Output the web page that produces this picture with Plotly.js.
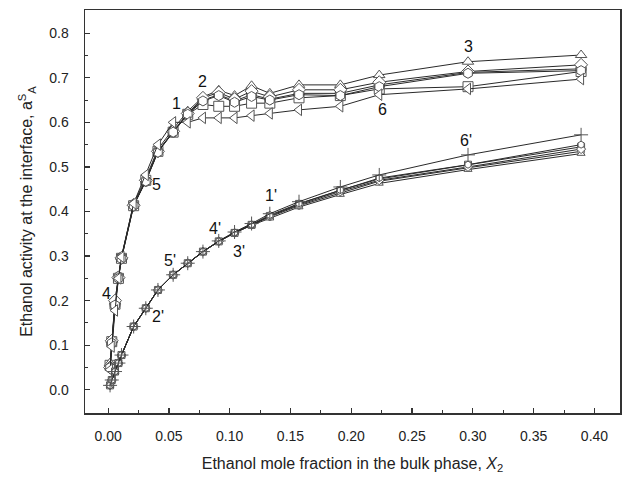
<!DOCTYPE html>
<html>
<head>
<meta charset="utf-8">
<script src="https://cdn.plot.ly/plotly-3.0.1.min.js"></script>
<style>html,body{margin:0;padding:0;background:#fff;}#chart{width:625px;height:484px;}</style>
</head>
<body>
<div id="chart"></div>
<script>
// Ethanol mole fraction in the bulk phase
const xBulk = [0.0016, 0.003, 0.0057, 0.0085, 0.011, 0.021, 0.031, 0.041, 0.0535, 0.0655,
               0.078, 0.091, 0.104, 0.118, 0.133, 0.157, 0.191, 0.223, 0.296, 0.389];

// Upper family: curves 1-6
const a1 = [0.055, 0.108, 0.192, 0.250, 0.295, 0.413, 0.470, 0.535, 0.578, 0.618, 0.640, 0.636, 0.636, 0.643, 0.643, 0.655, 0.660, 0.675, 0.680, 0.714];
const a2 = [0.050, 0.105, 0.190, 0.253, 0.297, 0.415, 0.468, 0.535, 0.578, 0.620, 0.650, 0.662, 0.648, 0.662, 0.652, 0.665, 0.665, 0.684, 0.712, 0.720];
const a3 = [0.060, 0.112, 0.198, 0.255, 0.298, 0.418, 0.475, 0.540, 0.585, 0.625, 0.657, 0.672, 0.660, 0.682, 0.665, 0.684, 0.684, 0.706, 0.736, 0.751];
const a4 = [0.050, 0.110, 0.200, 0.252, 0.296, 0.414, 0.470, 0.535, 0.580, 0.620, 0.655, 0.667, 0.652, 0.670, 0.657, 0.673, 0.673, 0.690, 0.714, 0.729];
const a5 = [0.050, 0.105, 0.190, 0.250, 0.294, 0.413, 0.468, 0.533, 0.578, 0.618, 0.648, 0.660, 0.645, 0.658, 0.650, 0.662, 0.660, 0.680, 0.710, 0.716];
const a6 = [0.045, 0.097, 0.178, 0.250, 0.298, 0.418, 0.482, 0.550, 0.600, 0.600, 0.610, 0.610, 0.610, 0.615, 0.620, 0.628, 0.636, 0.662, 0.675, 0.697];

// Lower family: curves 1'-6'
const b1 = [0.010, 0.022, 0.041, 0.060, 0.078, 0.142, 0.183, 0.224, 0.258, 0.284, 0.310, 0.333, 0.352, 0.370, 0.390, 0.417, 0.448, 0.473, 0.505, 0.545];
const b2 = [0.010, 0.022, 0.041, 0.060, 0.078, 0.142, 0.183, 0.224, 0.258, 0.284, 0.310, 0.333, 0.352, 0.370, 0.388, 0.413, 0.442, 0.468, 0.498, 0.535];
const b3 = [0.010, 0.022, 0.041, 0.060, 0.078, 0.142, 0.183, 0.224, 0.258, 0.284, 0.310, 0.333, 0.352, 0.369, 0.385, 0.410, 0.438, 0.463, 0.494, 0.530];
const b4 = [0.010, 0.022, 0.041, 0.060, 0.078, 0.142, 0.183, 0.224, 0.258, 0.284, 0.310, 0.333, 0.352, 0.370, 0.390, 0.415, 0.445, 0.470, 0.500, 0.540];
const b5 = [0.010, 0.022, 0.041, 0.060, 0.078, 0.142, 0.183, 0.224, 0.258, 0.284, 0.310, 0.333, 0.353, 0.371, 0.392, 0.418, 0.448, 0.475, 0.505, 0.550];
const b6 = [0.010, 0.022, 0.041, 0.060, 0.078, 0.142, 0.183, 0.224, 0.258, 0.284, 0.310, 0.334, 0.354, 0.373, 0.395, 0.422, 0.455, 0.482, 0.527, 0.572];

const upperSeries = [a1, a2, a3, a4, a5, a6];
const lowerSeries = [b1, b2, b3, b4, b5, b6];
const upperSymbols = ['square', 'circle', 'triangle-up', 'diamond', 'hexagon', 'triangle-left'];
const lowerSymbols = ['square', 'circle', 'triangle-up', 'diamond', 'hexagon', 'cross-thin'];

// Curve labels
const labelText = ['1', '2', '3', '4', '5', '6', "1'", "2'", "3'", "4'", "5'", "6'"];
const labelX = [0.056, 0.078, 0.296, -0.001, 0.040, 0.226, 0.134, 0.041, 0.108, 0.088, 0.051, 0.294];
const labelY = [0.643, 0.691, 0.770, 0.217, 0.460, 0.628, 0.437, 0.164, 0.310, 0.362, 0.291, 0.560];

const traces = [];
upperSeries.forEach((ys, i) => {
  traces.push({
    x: xBulk, y: ys, type: 'scatter', mode: 'lines+markers',
    line: {color: '#2a2a2a', width: 1},
    marker: {symbol: upperSymbols[i], size: 10, color: '#ffffff', line: {color: '#555555', width: 1}},
    showlegend: false, hoverinfo: 'skip'
  });
});
lowerSeries.forEach((ys, i) => {
  const cross = lowerSymbols[i] === 'cross-thin';
  traces.push({
    x: xBulk, y: ys, type: 'scatter', mode: 'lines+markers',
    line: {color: '#2a2a2a', width: 1},
    marker: {symbol: lowerSymbols[i], size: cross ? 10 : 7, color: cross ? '#555555' : '#ffffff',
             line: {color: '#555555', width: 1}},
    showlegend: false, hoverinfo: 'skip'
  });
});

const font = 'Liberation Sans, Arial, sans-serif';

const layout = {
  width: 625, height: 484,
  margin: {l: 85, r: 5, t: 10, b: 71},
  paper_bgcolor: '#ffffff', plot_bgcolor: '#ffffff',
  font: {family: font, color: '#222222', size: 14},
  xaxis: {
    range: [-0.019, 0.421], tick0: 0, dtick: 0.05, tickformat: '.2f',
    ticks: 'inside', ticklen: 5, tickwidth: 1.2, tickcolor: '#333',
    minor: {ticks: 'inside', dtick: 0.025, tick0: 0, ticklen: 3, tickwidth: 1, tickcolor: '#333'},
    showline: true, linecolor: '#333', linewidth: 1.5, mirror: true,
    showgrid: false, zeroline: false, ticklabelstandoff: 10,
    tickfont: {size: 14, color: '#222'},
    title: {text: 'Ethanol mole fraction in the bulk phase, <i>X</i><sub>2</sub>', font: {size: 16, color: '#222'}, standoff: 14}
  },
  yaxis: {
    range: [-0.052, 0.852], tick0: 0, dtick: 0.1, tickformat: '.1f',
    ticks: 'inside', ticklen: 5, tickwidth: 1.2, tickcolor: '#333',
    minor: {ticks: 'inside', dtick: 0.05, tick0: 0, ticklen: 3, tickwidth: 1, tickcolor: '#333'},
    showline: true, linecolor: '#333', linewidth: 1.5, mirror: true,
    showgrid: false, zeroline: false, ticklabelstandoff: 12,
    tickfont: {size: 14, color: '#222'},
    title: {text: 'Ethanol activity at the interface, a<sup>S</sup><sub>A</sub>', font: {size: 16, color: '#222'}, standoff: 12}
  },
  annotations: labelText.map((t, i) => ({
    x: labelX[i], y: labelY[i], xref: 'x', yref: 'y', text: t, showarrow: false,
    font: {size: 16, color: '#111', family: font}
  }))
};

Plotly.newPlot('chart', traces, layout, {staticPlot: true, displayModeBar: false});
</script>
</body>
</html>
